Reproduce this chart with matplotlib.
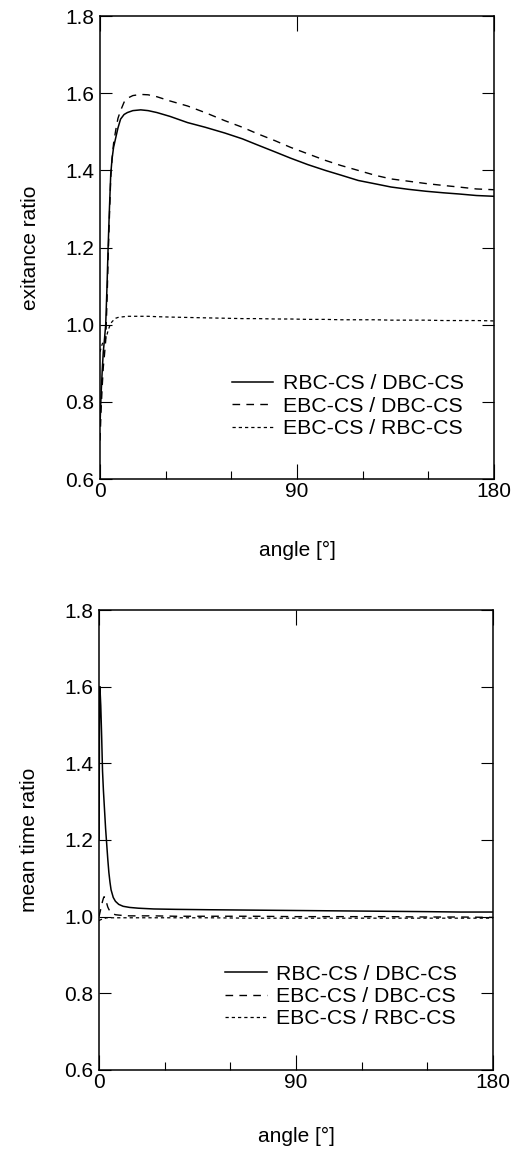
import matplotlib
matplotlib.use('Agg')
import matplotlib.pyplot as plt
from matplotlib.ticker import MultipleLocator

plt.rcParams['font.family'] = ['Liberation Sans', 'DejaVu Sans']

# Data: exitance ratio vs angle
ang_top = [0, 0.5, 1, 1.5, 2, 2.6, 3.2, 3.7, 4.3, 4.9, 5.5, 6.2, 7.2, 8.2, 9.4, 11, 12.5, 15, 18.6, 22,
           26, 32, 40, 48, 57, 65, 72, 80, 87, 95, 103, 110, 118, 126, 133, 141, 149, 157, 164, 172, 180]
rbc_dbc = [0.74, 0.82, 0.88, 0.93, 0.96, 1.0, 1.1, 1.2, 1.3, 1.39, 1.43, 1.46, 1.485, 1.51, 1.533, 1.545, 1.55, 1.555, 1.557, 1.555,
           1.55, 1.54, 1.524, 1.512, 1.497, 1.482, 1.466, 1.448, 1.432, 1.415, 1.40, 1.388, 1.374, 1.365, 1.357, 1.351, 1.346, 1.342, 1.339, 1.335, 1.333]
ebc_dbc = [0.70, 0.78, 0.84, 0.89, 0.92, 0.96, 1.06, 1.17, 1.28, 1.38, 1.43, 1.47, 1.505, 1.535, 1.555, 1.577, 1.587, 1.594, 1.597, 1.596,
           1.591, 1.58, 1.567, 1.55, 1.529, 1.512, 1.495, 1.477, 1.46, 1.443, 1.426, 1.413, 1.40, 1.387, 1.378, 1.372, 1.366, 1.361, 1.357, 1.352, 1.35]
ebc_rbc = [0.93, 0.94, 0.95, 0.955, 0.96, 0.965, 0.975, 0.985, 0.995, 1.003, 1.008, 1.012, 1.017, 1.019, 1.02, 1.021, 1.022, 1.022, 1.022, 1.022,
           1.021, 1.02, 1.019, 1.018, 1.017, 1.016, 1.016, 1.015, 1.015, 1.014, 1.014, 1.013, 1.013, 1.013, 1.012, 1.012, 1.012, 1.011, 1.011, 1.011, 1.01]

# Data: mean time ratio vs angle
ang_bot = [0, 0.2, 0.4, 0.8, 1.2, 1.6, 2.0, 2.3, 2.7, 3.0, 3.5, 4.0, 4.5, 5.0, 5.5, 6.5, 7.5, 9, 11, 14,
           18, 25, 35, 50, 70, 90, 110, 130, 150, 165, 180]
rbc_dbc_t = [1.2, 1.5, 1.6, 1.55, 1.47, 1.38, 1.33, 1.3, 1.26, 1.23, 1.19, 1.15, 1.115, 1.09, 1.07, 1.05, 1.04, 1.032, 1.027, 1.024,
             1.022, 1.02, 1.019, 1.018, 1.017, 1.016, 1.015, 1.014, 1.013, 1.012, 1.012]
ebc_dbc_t = [1.0, 1.005, 1.01, 1.02, 1.03, 1.04, 1.048, 1.052, 1.05, 1.045, 1.035, 1.025, 1.019, 1.014, 1.011, 1.007, 1.005, 1.004, 1.003, 1.002,
             1.002, 1.002, 1.001, 1.001, 1.001, 1.0, 1.0, 1.0, 0.999, 0.999, 0.998]
ebc_rbc_t = [0.99, 0.99, 0.991, 0.992, 0.993, 0.994, 0.995, 0.996, 0.996, 0.996, 0.997, 0.997, 0.997, 0.997, 0.997, 0.997, 0.997, 0.997, 0.997, 0.997,
             0.997, 0.997, 0.997, 0.997, 0.996, 0.996, 0.996, 0.996, 0.996, 0.996, 0.996]

labels = ['RBC-CS / DBC-CS', 'EBC-CS / DBC-CS', 'EBC-CS / RBC-CS']

fig = plt.figure(figsize=(5.19, 11.49), dpi=100)
ax1 = fig.add_axes([0.1927, 0.583, 0.759, 0.403])
ax2 = fig.add_axes([0.1908, 0.0688, 0.759, 0.4003])


def panel(ax, x, s1, s2, s3, ylabel, leg_x, leg_y, xlpad):
    ax.plot(x, s1, color='black', lw=1.1, ls='-', label=labels[0])
    ax.plot(x, s2, color='black', lw=1.0, dashes=(5.5, 4.5), label=labels[1])
    ax.plot(x, s3, color='black', lw=0.9, dashes=(2.6, 2.4), label=labels[2])
    ax.set_xlim(0, 180)
    ax.set_ylim(0.6, 1.8)
    ax.set_xticks([0, 90, 180])
    ax.xaxis.set_minor_locator(MultipleLocator(30))
    ax.yaxis.set_major_locator(MultipleLocator(0.2))
    ax.tick_params(which='major', direction='in', top=True, right=True,
                   length=8.6, width=0.8, labelsize=15, pad=4)
    ax.tick_params(axis='x', which='major', length=10.5, pad=2)
    ax.tick_params(which='minor', direction='in', top=False, length=5.5, width=0.8)
    ax.yaxis.set_major_formatter(plt.FormatStrFormatter('%.1f'))
    for sp in ax.spines.values():
        sp.set_linewidth(1.1)
    ax.set_xlabel('angle [°]', fontsize=15, labelpad=xlpad)
    ax.set_ylabel(ylabel, fontsize=15, labelpad=18)
    ax.legend(loc='upper left', bbox_to_anchor=(leg_x, leg_y), frameon=False,
              fontsize=15.3, handlelength=1.95, handletextpad=0.45,
              labelspacing=0.16, borderpad=0, borderaxespad=0)


panel(ax1, ang_top, rbc_dbc, ebc_dbc, ebc_rbc, 'exitance ratio', 0.335, 0.226, 29)
panel(ax2, ang_bot, rbc_dbc_t, ebc_dbc_t, ebc_rbc_t, 'mean time ratio', 0.32, 0.229, 25)

fig.savefig('out.png', dpi=100)
